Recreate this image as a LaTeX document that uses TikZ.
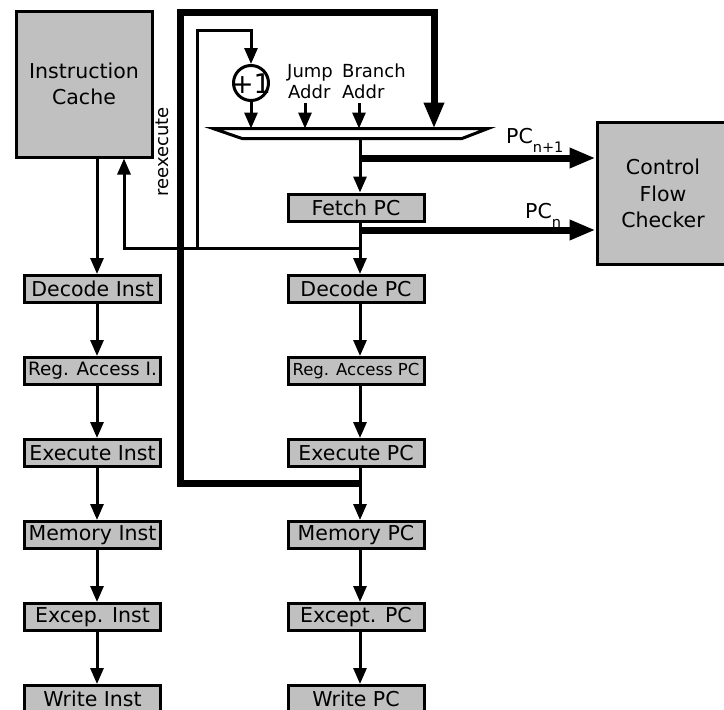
\documentclass[tikz,border=0pt]{standalone}
\usepackage{fontspec}
\setmainfont{DejaVu Sans}
\usetikzlibrary{arrows.meta}
\definecolor{boxgray}{RGB}{192,192,192}
\begin{document}
\begin{tikzpicture}[x=1pt,y=-1pt,
  box/.style={draw=black, line width=3pt, fill=boxgray, minimum width=136pt, minimum height=27pt, inner sep=0pt, font=\fontsize{20.5}{26}\selectfont},
  bigbox/.style={draw=black, line width=3pt, fill=boxgray, align=center, inner sep=0pt, font=\fontsize{20.5}{26.5}\selectfont},
  wire/.style={line width=3pt},
  arr/.style={wire, -{Triangle[length=16pt,width=13pt]}},
  fat/.style={line width=7pt},
  fatarr/.style={fat, -{Triangle[length=26pt,width=19pt]}},
  lbl/.style={inner sep=0pt, font=\fontsize{18}{21}\selectfont},
  pclbl/.style={inner sep=0pt, font=\fontsize{20.5}{24}\selectfont}
]
\clip (0,0) rectangle (724,710);
\fill[white] (0,0) rectangle (724,710);

% column coordinates
\coordinate (Lc) at (97,0);
\coordinate (Rc) at (360,0);
\coordinate (mt) at (0,128.5);
\coordinate (mb) at (0,138.5);

% big boxes
\node[bigbox, minimum width=136pt, minimum height=146pt] (ic) at (84,84) {Instruction\\Cache};
\node[bigbox, minimum width=132pt, minimum height=142pt] (cfc) at (663,193.5) {Control\\Flow\\Checker};

% left column
\node[box] (decI) at (92.5,289) {Decode Inst};
\node[box, font=\fontsize{18.4}{22}\selectfont] (regI) at (92.5,371) {Reg. Access I.};
\node[box] (exI) at (92.5,453) {Execute Inst};
\node[box] (memI) at (92.5,535) {Memory Inst};
\node[box] (excI) at (92.5,617) {Excep. Inst};
\node[box] (wrI) at (92.5,699) {Write Inst};

% right column
\node[box] (fetch) at (356,207.5) {Fetch PC};
\node[box] (decP) at (356,289) {Decode PC};
\node[box, font=\fontsize{16.5}{20}\selectfont] (regP) at (356,371) {Reg. Access PC};
\node[box] (exP) at (356,453) {Execute PC};
\node[box] (memP) at (356,535) {Memory PC};
\node[box] (excP) at (356,617) {Except. PC};
\node[box] (wrP) at (356,699) {Write PC};

% left chain
\draw[arr] (ic.south -| Lc) -- (decI.north -| Lc);
\draw[arr] (decI.south -| Lc) -- (regI.north -| Lc);
\draw[arr] (regI.south -| Lc) -- (exI.north -| Lc);
\draw[arr] (exI.south -| Lc) -- (memI.north -| Lc);
\draw[arr] (memI.south -| Lc) -- (excI.north -| Lc);
\draw[arr] (excI.south -| Lc) -- (wrI.north -| Lc);

% right chain
\draw[arr] (mb -| Rc) -- (fetch.north -| Rc);
\draw[arr] (fetch.south -| Rc) -- (decP.north -| Rc);
\draw[arr] (decP.south -| Rc) -- (regP.north -| Rc);
\draw[arr] (regP.south -| Rc) -- (exP.north -| Rc);
\draw[arr] (exP.south -| Rc) -- (memP.north -| Rc);
\draw[arr] (memP.south -| Rc) -- (excP.north -| Rc);
\draw[arr] (excP.south -| Rc) -- (wrP.north -| Rc);

% thick feedback loop from execute stage to mux
\coordinate (fl) at (360,483);
\coordinate (flb) at (180,483);
\coordinate (flt) at (180,12);
\coordinate (frt) at (434,12);
\draw[fatarr] (fl) -- (flb) -- (flt) -- (frt) -- (frt |- mt);

% +1 incrementer
\node[draw=black, circle, line width=3pt, minimum size=35pt, inner sep=0pt] (inc) at (251,83) {};
\node[inner sep=0pt, font=\fontsize{27}{27}\selectfont] (inctxt) at (251,84) {+1};

% reexecute and thin loop
\coordinate (rx) at (360,248);
\coordinate (rxl) at (124,248);
\coordinate (tl) at (197,248);
\coordinate (tlt) at (197,30);
\draw[arr] (rx) -- (rxl) -- (rxl |- ic.south);
\draw[arr] (tl) -- (tlt) -- (tlt -| inc.north) -- (inc.north);

% inputs to mux
\coordinate (ja) at (305,103);
\coordinate (ba) at (359,103);
\draw[arr] (inc.south) -- (inc.south |- mt);
\draw[arr] (ja) -- (ja |- mt);
\draw[arr] (ba) -- (ba |- mt);

% mux
\draw[line width=3pt, fill=white, line join=miter] (213,128.5) -- (488,128.5) -- (462,138.5) -- (242,138.5) -- cycle;

% labels
\node[lbl, anchor=base west] (jump) at (287,77) {Jump};
\node[lbl, anchor=base west] (jaddr) at (288,98) {Addr};
\node[lbl, anchor=base west] (branch) at (342,77) {Branch};
\node[lbl, anchor=base west] (baddr) at (342,98) {Addr};
\node[lbl, rotate=90] (reex) at (162,152) {reexecute};

% PC outputs to checker
\coordinate (p1) at (360,158);
\coordinate (p0) at (360,230);
\draw[fatarr] (p1) -- (p1 -| cfc.west);
\draw[fatarr] (p0) -- (p0 -| cfc.west);
\node[pclbl, anchor=base west] (pcn1) at (506,143) {PC\raisebox{-9pt}{\fontsize{14.5}{14}\selectfont n+1}};
\node[pclbl, anchor=base west] (pcn) at (525,218) {PC\raisebox{-9pt}{\fontsize{14.5}{14}\selectfont n}};
\end{tikzpicture}
\end{document}
